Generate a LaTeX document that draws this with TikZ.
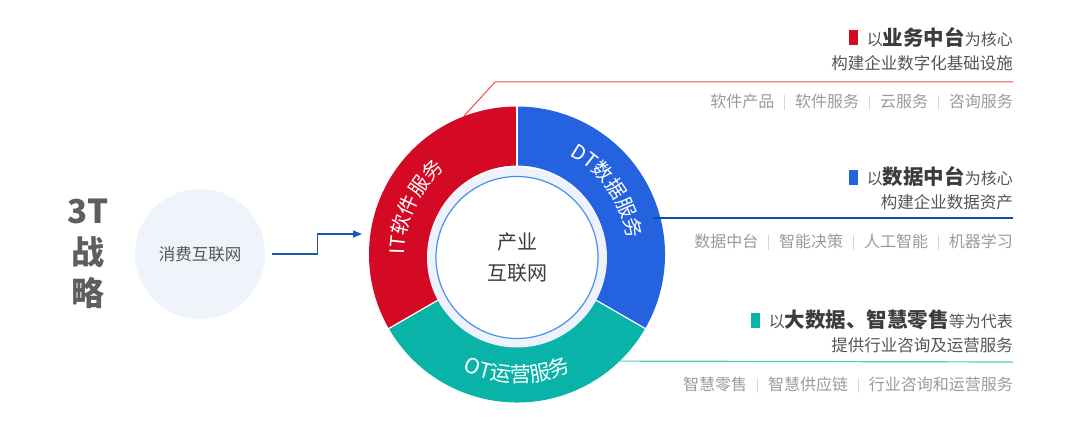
\documentclass[tikz,border=0pt]{standalone}
\usepackage{fontspec}
\usetikzlibrary{arrows.meta,positioning,decorations.text}
\newfontfamily\cjk{Noto Sans CJK SC}
\definecolor{itred}{HTML}{D40A25}
\definecolor{dtblue}{HTML}{2462E0}
\definecolor{otteal}{HTML}{0AB3A8}
\definecolor{redln}{HTML}{EE4A55}
\definecolor{blueln}{HTML}{0B4EA8}
\definecolor{tealln}{HTML}{4DCDBB}
\definecolor{bandc}{HTML}{EDF2FB}
\definecolor{rimc}{HTML}{4A90EA}
\definecolor{consc}{HTML}{EFF4FA}
\definecolor{arrc}{HTML}{1F55B0}
\definecolor{capt}{HTML}{555555}
\definecolor{dark}{HTML}{3C3C3C}
\definecolor{soft}{HTML}{9A9A9A}
\definecolor{sepc}{HTML}{D6D6D6}
\definecolor{titc}{HTML}{5E5E5E}

\newcommand\fsz[2]{\fontsize{#1}{#2}\selectfont}
\newcommand\sepbar{\hspace{10pt}{\color{sepc}\rule[-2pt]{0.8pt}{15pt}}\hspace{10pt}}
\newcommand\bigkw[1]{{\fsz{20.5}{20.5}\bfseries\color{dark}#1}}
\newcommand\sidefont{\cjk\fsz{20}{20}}
\newcommand\lowfont{\cjk\fsz{21}{21}}

\begin{document}
\begin{tikzpicture}[x=1pt, y=1pt,
    hd/.style={anchor=east, inner sep=0pt, font=\cjk\fsz{16}{16}, text=capt},
    sub/.style={anchor=east, inner sep=0pt, font=\cjk\fsz{16.5}{16.5}, text=capt},
    tags/.style={anchor=east, inner sep=0pt, font=\cjk\fsz{16}{16}, text=soft},
    sq/.style={fill=#1, minimum width=9pt, minimum height=15pt, inner sep=0pt},
    arctxt/.style={decorate, decoration={text along path, text={#1},
        text align=center, text color=white}},
    flow/.style={draw=arrc, line width=1.3pt, -{Triangle[length=9pt,width=7pt]}}]

  \useasboundingbox (0,0) rectangle (1080,437);

  % ── title and the consumer internet bubble ──
  \node[font=\cjk\fsz{33}{41}\bfseries, text=titc, align=center,
        inner sep=0pt] (title) at (88,183) {3T\\战\\略};
  \node[circle, fill=consc, minimum size=130pt, inner sep=0pt,
        font=\cjk\fsz{16.5}{16.5}, text=capt] (cons) at (200,183) {消费互联网};

  % ── ring: three service sectors around the industrial internet ──
  \coordinate (c) at (517,182.5);
  \coordinate (ci) at (517,179.5);
  \node[circle, minimum size=296pt, inner sep=0pt] (ring) at (c) {};
  \begin{scope}[shift={(c)}]
    \foreach \a/\col in {90/itred, -30/dtblue, 210/otteal}
      \fill[\col] (\a:148) arc[start angle=\a, end angle=\a+120, radius=148]
        -- (\a+120:89) arc[start angle=\a+120, end angle=\a, radius=89] -- cycle;
    \foreach \a in {90,210,330}
      \draw[white, line width=1.2pt] (\a:88) -- (\a:149);
  \end{scope}
  \fill[bandc] (ci) circle[radius=90];
  \draw[rimc, line width=1.2pt, fill=white] (ci) circle[radius=81];
  \node[font=\cjk\fsz{20}{31}, text=dark, align=center, inner sep=0pt]
    (core) at (517,180) {产业\\互联网};

  \path[arctxt={|\sidefont|IT软件服务}] (c) ++(214:112) arc[start angle=214, end angle=96, radius=112];
  \path[arctxt={|\sidefont|DT数据服务}] (c) ++(94:112) arc[start angle=94, end angle=-24, radius=112];
  \path[arctxt={|\lowfont|OT运营服务}] (c) ++(210:128) arc[start angle=210, end angle=330, radius=128];

  % ── arrow into the ring ──
  \draw[flow] ([xshift=7pt]cons.east) -- ++(45,0) -- ++(0,20) -- (362,203);

  % ── IT block ──
  \node[hd] (h1) at (1013,400) {以\bigkw{业务中台}为核心};
  \node[sq=itred, left=8pt of h1.west, yshift=-1pt] (s1) {};
  \node[sub] (d1) at (1013,374) {构建企业数字化基础设施};
  \node[tags] (t1) at (1013,335) {软件产品\sepbar 软件服务\sepbar 云服务\sepbar 咨询服务};
  \coordinate (e1) at (1013,355);
  \draw[redln, line width=1pt] (ring.111) -- (495,355) -- (e1);

  % ── DT block ──
  \node[hd] (h2) at (1013,260) {以\bigkw{数据中台}为核心};
  \node[sq=dtblue, left=8pt of h2.west, yshift=-1pt] (s2) {};
  \node[sub] (d2) at (1013,235) {构建企业数据资产};
  \node[tags] (t2) at (1013,195) {数据中台\sepbar 智能决策\sepbar 人工智能\sepbar 机器学习};
  \coordinate (p2) at (653,219);
  \coordinate (e2) at (1013,219);
  \draw[blueln, line width=1.2pt] (p2) -- (e2);

  % ── OT block ──
  \node[hd] (h3) at (1013,117) {以\bigkw{大数据、智慧零售}等为代表};
  \node[sq=otteal, left=8pt of h3.west, yshift=-1pt] (s3) {};
  \node[sub] (d3) at (1013,92) {提供行业咨询及运营服务};
  \node[tags] (t3) at (1013,52) {智慧零售\sepbar 智慧供应链\sepbar 行业咨询和运营服务};
  \coordinate (e3) at (1013,75);
  \draw[tealln, line width=1.2pt] (ring.-46) -- (e3);
\end{tikzpicture}
\end{document}
